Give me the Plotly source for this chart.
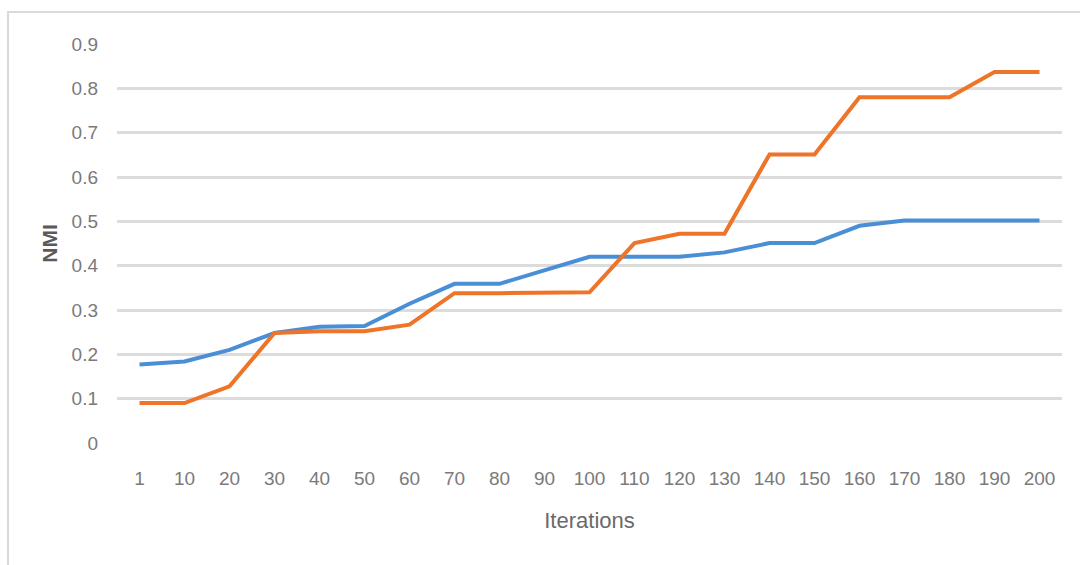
import plotly.graph_objects as go

# Iteration checkpoints on the category axis
iterations = ["1", "10", "20", "30", "40", "50", "60", "70", "80", "90", "100",
              "110", "120", "130", "140", "150", "160", "170", "180", "190", "200"]

# NMI of the two runs at each checkpoint
nmi_blue = [0.177, 0.184, 0.21, 0.248, 0.262, 0.264, 0.314, 0.359, 0.359, 0.39, 0.42,
            0.42, 0.42, 0.43, 0.451, 0.451, 0.49, 0.502, 0.502, 0.502, 0.502]
nmi_orange = [0.09, 0.09, 0.128, 0.248, 0.252, 0.252, 0.267, 0.338, 0.338, 0.338, 0.34,
              0.451, 0.472, 0.472, 0.651, 0.651, 0.78, 0.78, 0.78, 0.837, 0.837]

y_ticks = [0, 0.1, 0.2, 0.3, 0.4, 0.5, 0.6, 0.7, 0.8, 0.9]
y_tick_text = ["0", "0.1", "0.2", "0.3", "0.4", "0.5", "0.6", "0.7", "0.8", "0.9"]

FONT = "Liberation Sans, Arial, sans-serif"

fig = go.Figure()
fig.add_trace(go.Scatter(x=iterations, y=nmi_blue, mode="lines",
                         line=dict(color="#4a8fd6", width=4), showlegend=False))
fig.add_trace(go.Scatter(x=iterations, y=nmi_orange, mode="lines",
                         line=dict(color="#ed7428", width=4), showlegend=False))

# light chart-area frame
fig.add_shape(type="rect", xref="paper", yref="paper",
              x0=-0.1153, x1=1.05, y0=-0.35, y1=1.080,
              line=dict(color="#d9d9d9", width=2), layer="below")

fig.update_layout(
    width=1080, height=565,
    margin=dict(l=117, r=18, t=44, b=121.5),
    paper_bgcolor="white", plot_bgcolor="white",
    font=dict(family=FONT, color="#7a7a7a", size=19),
    xaxis=dict(type="category", range=[-0.5, 20.5], showgrid=False, zeroline=False,
               showline=False, ticks="", ticklen=0, ticklabelstandoff=22,
               tickfont=dict(size=19, color="#7a7a7a"),
               title=dict(text="Iterations", font=dict(size=22, color="#6a6a6a"), standoff=24)),
    yaxis=dict(range=[0, 0.9], tickvals=y_ticks, ticktext=y_tick_text,
               showgrid=True, gridcolor="#dcdcdc", gridwidth=2.5, zeroline=False,
               showline=False, ticks="", ticklen=0, ticklabelstandoff=18,
               tickfont=dict(size=19, color="#7a7a7a"),
               title=dict(text="<b>NMI</b>", font=dict(size=21, color="#5a5a5a"), standoff=8)),
)

fig.write_html("out.html")
